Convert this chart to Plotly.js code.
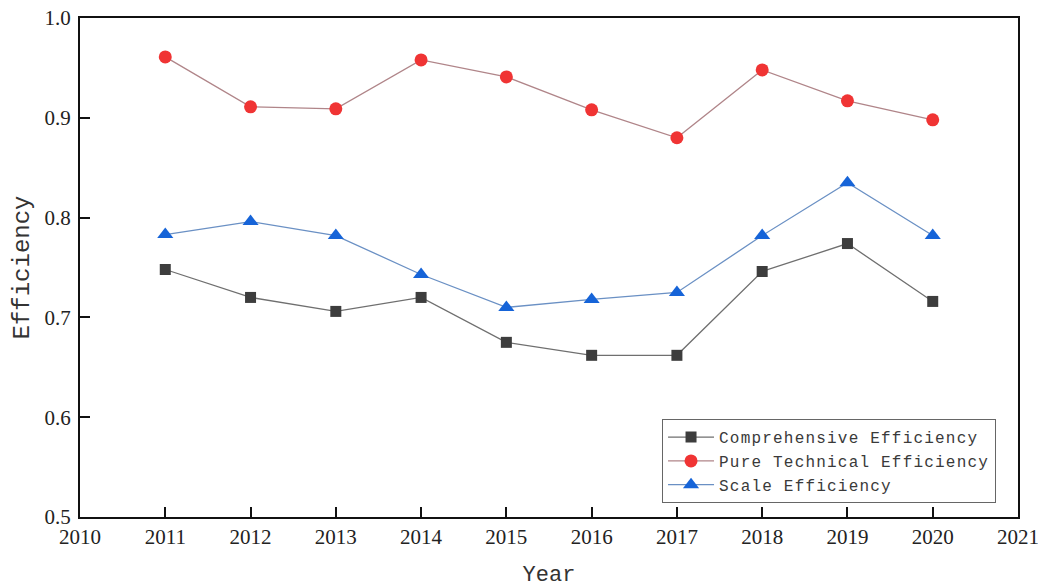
<!DOCTYPE html>
<html>
<head>
<meta charset="utf-8">
<script src="https://cdn.plot.ly/plotly-3.0.1.min.js"></script>
<style>html,body{margin:0;padding:0;background:#fff;}#chart{width:1038px;height:588px;}
.legendtext{letter-spacing:1.2px;}</style>
</head>
<body>
<div id="chart"></div>
<script>
const years = [2011, 2012, 2013, 2014, 2015, 2016, 2017, 2018, 2019, 2020];
const comprehensive = [0.748, 0.720, 0.706, 0.720, 0.675, 0.662, 0.662, 0.746, 0.774, 0.716];
const pureTechnical = [0.961, 0.911, 0.909, 0.958, 0.941, 0.908, 0.880, 0.948, 0.917, 0.898];
const scale = [0.783, 0.796, 0.782, 0.743, 0.710, 0.718, 0.725, 0.782, 0.835, 0.782];
const seriesNames = ["Comprehensive Efficiency", "Pure Technical Efficiency", "Scale Efficiency"];
const xTicks = [2010, 2011, 2012, 2013, 2014, 2015, 2016, 2017, 2018, 2019, 2020, 2021];
const yTicks = [0.5, 0.6, 0.7, 0.8, 0.9, 1.0];
const yTickText = ["0.5", "0.6", "0.7", "0.8", "0.9", "1.0"];

const traces = [
  {x: years, y: comprehensive, name: seriesNames[0], mode: "lines+markers", type: "scatter",
   line: {color: "#6f6f6f", width: 1.3}, marker: {symbol: "square", size: 11, color: "#3d3d3d"}},
  {x: years, y: pureTechnical, name: seriesNames[1], mode: "lines+markers", type: "scatter",
   line: {color: "#b08589", width: 1.3}, marker: {symbol: "circle", size: 13, color: "#f03434"}},
  {x: years, y: scale, name: seriesNames[2], mode: "lines+markers", type: "scatter",
   line: {color: "#6a90c4", width: 1.3}, marker: {symbol: "triangle-up", size: 14, color: "#1664d8"}}
];

const axisFont = {family: "Liberation Serif, Times New Roman, serif", size: 21, color: "#222"};
const monoFamily = "Liberation Mono, DejaVu Sans Mono, monospace";
const layout = {
  width: 1038, height: 588,
  margin: {l: 80, r: 20, t: 18, b: 71},
  paper_bgcolor: "#fff", plot_bgcolor: "#fff",
  showlegend: true,
  legend: {x: 0.6205, y: 0.196, xanchor: "left", yanchor: "top",
    bgcolor: "#fff", bordercolor: "#666", borderwidth: 1,
    itemwidth: 46,
    font: {family: monoFamily, size: 16, color: "#3a3a3a"},
    tracegroupgap: 0},
  xaxis: {range: [2010, 2021], tickvals: xTicks, ticktext: xTicks.map(String),
    showgrid: false, zeroline: false, showline: true, mirror: true, linecolor: "#111", linewidth: 2,
    ticks: "inside", ticklen: 10, tickwidth: 2, tickcolor: "#111",
    tickfont: axisFont, ticklabeloverflow: "allow",
    title: {text: "Year", font: {family: monoFamily, size: 22, color: "#333"}, standoff: 18}},
  yaxis: {range: [0.5, 1.0], tickvals: yTicks, ticktext: yTickText,
    showgrid: false, zeroline: false, showline: true, mirror: true, linecolor: "#111", linewidth: 2,
    ticks: "inside", ticklen: 10, tickwidth: 2, tickcolor: "#111",
    tickfont: axisFont, ticklabelstandoff: 3,
    title: {text: "Efficiency", font: {family: monoFamily, size: 24, color: "#333"}, standoff: 8}}
};
Plotly.newPlot("chart", traces, layout, {displayModeBar: false, staticPlot: true});
</script>
</body>
</html>
